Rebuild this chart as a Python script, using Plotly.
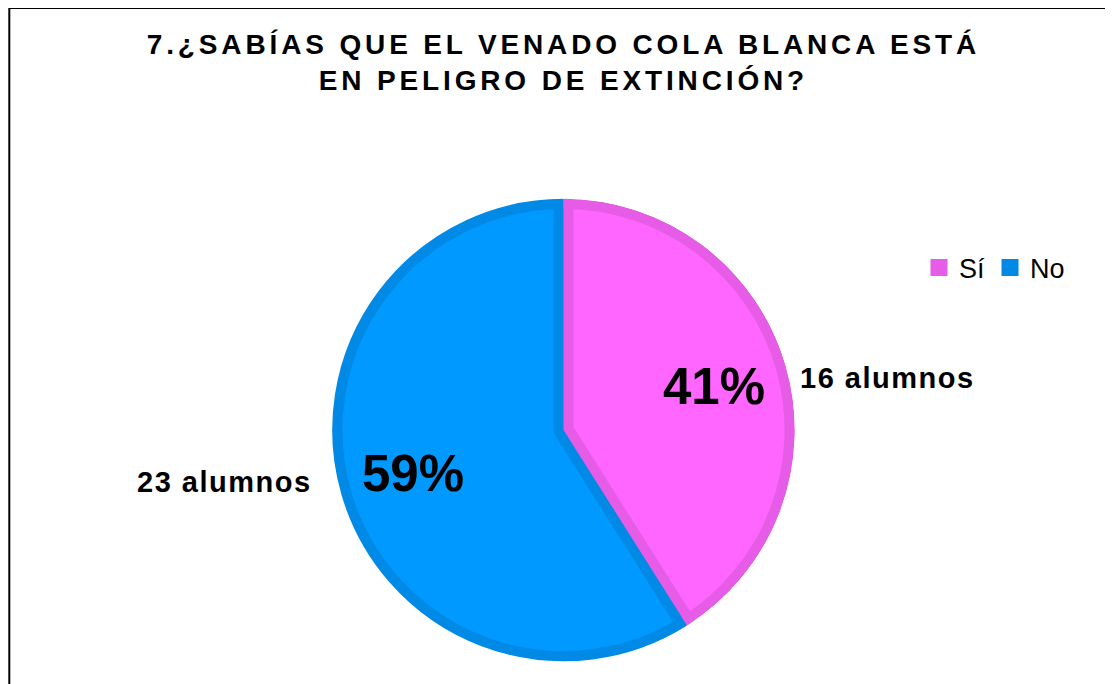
import math
import plotly.graph_objects as go

# ---------------- data ----------------
labels = ["Sí", "No"]
values = [16, 23]
count_labels = ["16 alumnos", "23 alumnos"]
title_lines = ["7.¿SABÍAS QUE EL VENADO COLA BLANCA ESTÁ", "EN PELIGRO DE EXTINCIÓN?"]

# ---------------- style ----------------
fill_colors = ["#FF66FF", "#0099FF"]
edge_colors = ["#E65CE6", "#008AE6"]
CLEAR = "rgba(0,0,0,0)"
FONT = "Liberation Sans"

W, H = 1113, 684
OFF = 8                            # page body margin (screen px -> figure px)
CX, CY, R = 563.5 - OFF, 430.0 - OFF, 231.0   # pie centre / radius in figure px (y down)
BAND = 10.0                        # inner border width of each slice


def px2paper(x, y):
    return x / W, 1 - y / H


def dom(r):
    return dict(x=[(CX - r) / W, (CX + r) / W],
                y=[(H - CY - r) / H, (H - CY + r) / H])


total = sum(values)
mids, spans = [], []
acc = 0
for v in values:
    a0 = acc / total * 360.0
    acc += v
    a1 = acc / total * 360.0
    mids.append((a0 + a1) / 2.0)
    spans.append(a1 - a0)

common = dict(labels=labels, values=values, sort=False, direction="clockwise",
              rotation=0, textinfo="none", hoverinfo="skip", showlegend=False)

fig = go.Figure()

# main data pie (also provides the legend)
fig.add_trace(go.Pie(**{**common, "showlegend": True, "hoverinfo": "label+value+percent"},
                     marker=dict(colors=edge_colors, line=dict(color=edge_colors, width=5)),
                     domain=dom(R - 2.5)))

# blue slice: bright fill with darker inner border (stroke centred on the slice edge)
fig.add_trace(go.Pie(**common,
                     marker=dict(colors=[CLEAR, fill_colors[1]],
                                 line=dict(color=[CLEAR, edge_colors[1]], width=[0, 2 * BAND])),
                     domain=dom(R)))

# pink slice: dark base
fig.add_trace(go.Pie(**common,
                     marker=dict(colors=[edge_colors[0], CLEAR], line=dict(width=0)),
                     domain=dom(R)))

# pink slice: bright inset (pulled along its bisector)
half = math.radians(spans[0] / 2.0)
shift = BAND / math.sin(half)
r_in = R - shift - 0.6
pull = shift / r_in
fig.add_trace(go.Pie(**common, pull=[pull, 0],
                     marker=dict(colors=[fill_colors[0], CLEAR], line=dict(width=0)),
                     domain=dom(r_in + shift)))

# pink slice: outer dark ring
fig.add_trace(go.Pie(**common, hole=(R - BAND) / R,
                     marker=dict(colors=[edge_colors[0], CLEAR], line=dict(width=0)),
                     domain=dom(R)))

# white ring trimming the outer half of the blue border stroke
R_OUT = R + 18
RING_LINE = 3
fig.add_trace(go.Pie(**common, hole=(R + 0.3 + RING_LINE / 2) / R_OUT,
                     marker=dict(colors=["white", "white"], line=dict(color="white", width=RING_LINE)),
                     domain=dom(R_OUT)))

# ---------------- labels ----------------
annotations = []
for i, v in enumerate(values):
    a = math.radians(mids[i])
    x, y = px2paper(CX + 0.68 * R * math.sin(a), CY - 0.68 * R * math.cos(a))
    annotations.append(dict(x=x, y=y, xref="paper", yref="paper",
                            text=f"{round(100 * v / total)}%", showarrow=False,
                            xanchor="center", yanchor="middle",
                            font=dict(family=FONT, size=51, color="black", weight="bold")))
    right = math.sin(a) > 0
    x, y = px2paper(CX + R * math.sin(a), CY - R * math.cos(a))
    annotations.append(dict(x=x, y=y, xref="paper", yref="paper",
                            text=f'<span style="letter-spacing:1.5px">{count_labels[i]}</span>',
                            showarrow=False,
                            xanchor="left" if right else "right", yanchor="middle",
                            xshift=13 if right else -28, yshift=-12 if right else 12,
                            font=dict(family=FONT, size=29, color="black", weight="bold")))

title_text = "<br>".join(f'<span style="letter-spacing:3.86px">{t}</span>' for t in title_lines)

lx, ly = px2paper(938 - 19 - OFF, 268 - OFF)
bx0, by1 = px2paper(8.8 - OFF + 0.5, 6.5 - OFF + 1.5)

fig.update_layout(
    width=W, height=H,
    margin=dict(l=0, r=0, t=0, b=0),
    paper_bgcolor="white", plot_bgcolor="white",
    title=dict(text=title_text, x=(563.4 - OFF) / W, xanchor="center", xref="container",
               y=1 - 45.6 / H, yanchor="top", yref="container",
               font=dict(family=FONT, size=28, color="black", weight="bold")),
    legend=dict(orientation="h", x=lx, y=ly, xanchor="left", yanchor="middle",
                font=dict(family=FONT, size=27, color="black"), bgcolor=CLEAR),
    annotations=annotations,
    shapes=[dict(type="rect", xref="paper", yref="paper",
                 x0=bx0, x1=1.02, y0=-0.02, y1=by1,
                 line=dict(color="black", width=2), fillcolor=CLEAR, layer="below")],
)

fig.write_html("out.html")
